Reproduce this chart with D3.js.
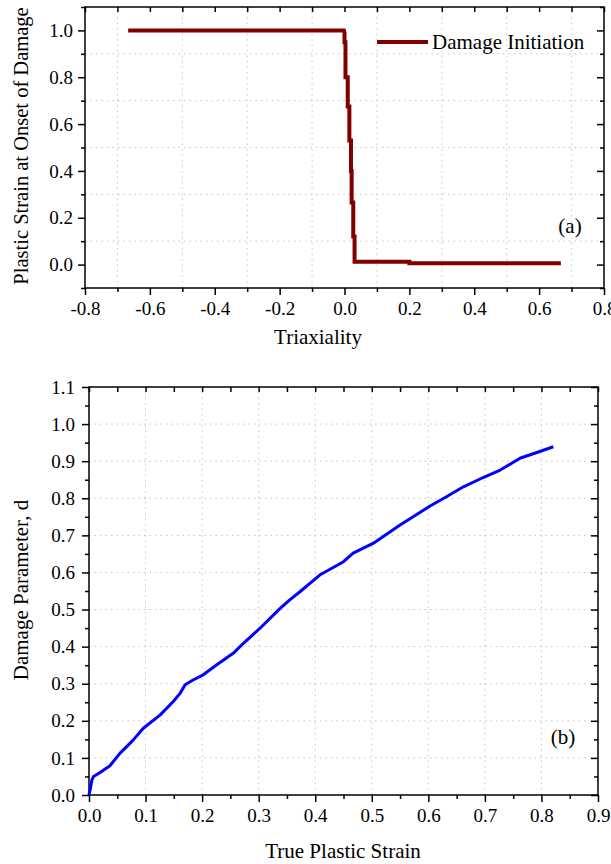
<!DOCTYPE html>
<html>
<head>
<meta charset="utf-8">
<script src="https://cdnjs.cloudflare.com/ajax/libs/d3/7.8.5/d3.min.js"></script>
<style>
  body { margin: 0; background: #fff; }
  text { font-family: 'Liberation Serif', 'Times New Roman', serif; fill: #000; }
</style>
</head>
<body>
<div id="chart"></div>
<script>
// Panel (a): damage initiation (triaxiality vs plastic strain at onset)
var triax      = [-0.667, -0.002, 0.0, 0.0, 0.003, 0.003, 0.010, 0.010, 0.015, 0.015, 0.020, 0.020, 0.022, 0.022, 0.027, 0.027, 0.031, 0.031, 0.2, 0.2, 0.667];
var strain_on  = [1.0, 1.0, 0.99, 0.95, 0.95, 0.80, 0.80, 0.675, 0.675, 0.53, 0.53, 0.40, 0.40, 0.265, 0.265, 0.12, 0.12, 0.012, 0.012, 0.006, 0.006];
var a_xticks   = [-0.8, -0.6, -0.4, -0.2, 0.0, 0.2, 0.4, 0.6, 0.8];
var a_xminor   = [-0.7, -0.5, -0.3, -0.1, 0.1, 0.3, 0.5, 0.7];
var a_yticks   = [0.0, 0.2, 0.4, 0.6, 0.8, 1.0];
var a_yminor   = [-0.1, 0.1, 0.3, 0.5, 0.7, 0.9, 1.1];

// Panel (b): damage evolution
var true_strain = [0, 0.003, 0.005, 0.008, 0.019, 0.037, 0.055, 0.078, 0.096, 0.126, 0.149, 0.161, 0.170, 0.184, 0.202, 0.226, 0.255, 0.273, 0.302, 0.338, 0.355, 0.373, 0.408, 0.450, 0.467, 0.503, 0.550, 0.603, 0.632, 0.662, 0.697, 0.727, 0.762, 0.797, 0.821];
var damage_d    = [0, 0.022, 0.040, 0.050, 0.060, 0.079, 0.113, 0.148, 0.180, 0.216, 0.252, 0.274, 0.297, 0.310, 0.324, 0.351, 0.382, 0.409, 0.449, 0.503, 0.526, 0.548, 0.593, 0.629, 0.652, 0.679, 0.728, 0.779, 0.804, 0.831, 0.856, 0.876, 0.908, 0.926, 0.939];
var b_xticks    = [0.0, 0.1, 0.2, 0.3, 0.4, 0.5, 0.6, 0.7, 0.8, 0.9];
var b_xminor    = [0.05, 0.15, 0.25, 0.35, 0.45, 0.55, 0.65, 0.75, 0.85];
var b_yticks    = [0.0, 0.1, 0.2, 0.3, 0.4, 0.5, 0.6, 0.7, 0.8, 0.9, 1.0, 1.1];
var b_yminor    = [0.05, 0.15, 0.25, 0.35, 0.45, 0.55, 0.65, 0.75, 0.85, 0.95, 1.05];

var width  = 611;
var height = 864;

var svg = d3.select('#chart')
    .append('svg')
    .attr('width', width)
    .attr('height', height);

var fmt = function(d) { return d.toFixed(1); };

// draws frame, ticks, grid for one panel
function drawPanel(g, sx, sy, xt, xm, yt, ym, gridX, gridY, ypad) {
    var x0 = sx.range()[0], x1 = sx.range()[1];
    var y0 = sy.range()[0], y1 = sy.range()[1];

    // grid
    g.append('g').selectAll('line')
        .data(gridX)
        .enter()
        .append('line')
        .attr('x1', function(d) { return sx(d); })
        .attr('x2', function(d) { return sx(d); })
        .attr('y1', y0)
        .attr('y2', y1)
        .attr('stroke', '#c4c4c4')
        .attr('stroke-dasharray', '1.5,4');
    g.append('g').selectAll('line')
        .data(gridY)
        .enter()
        .append('line')
        .attr('x1', x0)
        .attr('x2', x1)
        .attr('y1', function(d) { return sy(d); })
        .attr('y2', function(d) { return sy(d); })
        .attr('stroke', '#c4c4c4')
        .attr('stroke-dasharray', '1.5,4');

    // bottom
    g.append('g')
        .attr('class', 'x-axis')
        .attr('transform', 'translate(0,' + y0 + ')')
        .call(d3.axisBottom(sx).tickValues(xt).tickSize(7).tickSizeOuter(0).tickPadding(7).tickFormat(fmt));
    g.append('g')
        .attr('transform', 'translate(0,' + y0 + ')')
        .call(d3.axisBottom(sx).tickValues(xm).tickSize(4).tickSizeOuter(0).tickFormat(''));
    // top (inward)
    g.append('g')
        .attr('transform', 'translate(0,' + y1 + ')')
        .call(d3.axisTop(sx).tickValues(xt.concat(xm)).tickSize(-5).tickSizeOuter(0).tickFormat(''));
    // left
    g.append('g')
        .attr('class', 'y-axis')
        .attr('transform', 'translate(' + x0 + ',0)')
        .call(d3.axisLeft(sy).tickValues(yt).tickSize(7).tickSizeOuter(0).tickPadding(ypad).tickFormat(fmt));
    g.append('g')
        .attr('transform', 'translate(' + x0 + ',0)')
        .call(d3.axisLeft(sy).tickValues(ym).tickSize(4).tickSizeOuter(0).tickFormat(''));
    // right (inward)
    g.append('g')
        .attr('transform', 'translate(' + x1 + ',0)')
        .call(d3.axisRight(sy).tickValues(yt).tickSize(-7).tickSizeOuter(0).tickFormat(''));
    g.append('g')
        .attr('transform', 'translate(' + x1 + ',0)')
        .call(d3.axisRight(sy).tickValues(ym).tickSize(-4).tickSizeOuter(0).tickFormat(''));

    g.selectAll('.domain').remove();
    g.selectAll('.tick line').attr('stroke', '#000').attr('stroke-width', 1.5);
    g.selectAll('.tick text')
        .attr('font-size', 19)
        .style('font-family', "'Liberation Serif', serif")
        .attr('fill', '#000');

    g.append('rect')
        .attr('x', x0)
        .attr('y', y1)
        .attr('width', x1 - x0)
        .attr('height', y0 - y1)
        .attr('fill', 'none')
        .attr('stroke', '#000')
        .attr('stroke-width', 1.5);
}

// ---------- Panel (a)
var ga = svg.append('g');
var scale_ax = d3.scaleLinear().domain([-0.8, 0.8]).range([85, 604]);
var scale_ay = d3.scaleLinear().domain([-0.1, 1.1]).range([288, 7]);

drawPanel(ga, scale_ax, scale_ay, a_xticks, a_xminor, a_yticks, a_yminor, a_xminor, [0.1, 0.3, 0.5, 0.7, 0.9], 5);

var line_a = d3.line()
    .x(function(d) { return scale_ax(d[0]); })
    .y(function(d) { return scale_ay(d[1]); });

ga.append('path')
    .datum(d3.zip(triax, strain_on))
    .attr('d', line_a)
    .attr('fill', 'none')
    .attr('stroke', '#800000')
    .attr('stroke-width', 4);

// legend
ga.append('line')
    .attr('x1', 377).attr('x2', 428)
    .attr('y1', 42).attr('y2', 42)
    .attr('stroke', '#800000')
    .attr('stroke-width', 4);
ga.append('text')
    .attr('x', 432).attr('y', 49)
    .attr('font-size', 21)
    .text('Damage Initiation');

ga.append('text')
    .attr('x', 570).attr('y', 233)
    .attr('text-anchor', 'middle')
    .attr('font-size', 21)
    .text('(a)');

ga.append('text')
    .attr('x', 318).attr('y', 344)
    .attr('text-anchor', 'middle')
    .attr('font-size', 21)
    .text('Triaxiality');

ga.append('text')
    .attr('transform', 'translate(28,146) rotate(-90)')
    .attr('text-anchor', 'middle')
    .attr('font-size', 20.5)
    .text('Plastic Strain at Onset of Damage');

// ---------- Panel (b)
var gb = svg.append('g');
var scale_bx = d3.scaleLinear().domain([0, 0.9]).range([89, 598]);
var scale_by = d3.scaleLinear().domain([0, 1.1]).range([795, 387]);

drawPanel(gb, scale_bx, scale_by, b_xticks, b_xminor, b_yticks, b_yminor, b_xticks.slice(1, 9), b_yticks.slice(1, 11), 7);

var line_b = d3.line()
    .x(function(d) { return scale_bx(d[0]); })
    .y(function(d) { return scale_by(d[1]); });

gb.append('path')
    .datum(d3.zip(true_strain, damage_d))
    .attr('d', line_b)
    .attr('fill', 'none')
    .attr('stroke', '#0000ff')
    .attr('stroke-width', 3)
    .attr('stroke-linejoin', 'round');

gb.append('text')
    .attr('x', 563).attr('y', 744)
    .attr('text-anchor', 'middle')
    .attr('font-size', 21)
    .text('(b)');

gb.append('text')
    .attr('x', 343).attr('y', 858)
    .attr('text-anchor', 'middle')
    .attr('font-size', 21)
    .text('True Plastic Strain');

gb.append('text')
    .attr('transform', 'translate(28,590) rotate(-90)')
    .attr('text-anchor', 'middle')
    .attr('font-size', 21)
    .text('Damage Parameter, d');
</script>
</body>
</html>
